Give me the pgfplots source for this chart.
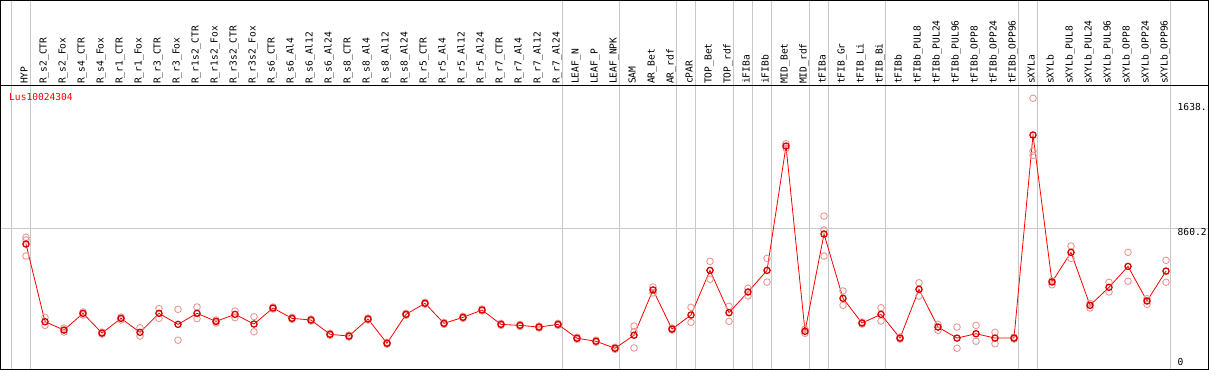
\documentclass[border=0pt]{standalone}
\usepackage{pgfplots}
\pgfplotsset{compat=1.18}
\usepackage{pgfplotstable}
\usepackage{fontspec}
\setmainfont{DejaVu Sans Mono}
\definecolor{rep}{RGB}{236,150,150}
\definecolor{gridc}{RGB}{200,200,200}
\pgfplotstableread{
x y
0 765.8
1 301
2 251
3 351
4 233
5 321
6 237.5
7 351
8 285
9 351
10 303
11 345
12 287
13 383
14 321
15 311
16 225.6
17 215
18 317
19 172
20 345
21 411
22 291
23 327
24 371
25 285
26 279
27 269
28 285
29 202
30 184
31 142
32 220
33 491
34 257
35 341
36 608
37 355
38 479
39 608
40 1352
41 243.5
42 825.7
43 441
44 293
45 345
46 203
47 495
48 269
49 203
50 229
51 203
52 203
53 1418
54 538.5
55 716
56 399
57 507
58 632
59 425
60 604
}\means
\pgfplotstableread{
x y
0 805.9
0 694
0 789.8
1 327
1 279
2 263
2 239
3 359
3 341
4 239
4 227
5 329
5 311
6 265
6 215
7 379
7 321
8 375
8 190
9 389
9 319
10 311
10 293
11 365
11 325
12 331
12 241
13 389
13 377
14 327
14 315
15 317
15 305
16 231.5
16 219.6
17 221
17 209
18 323
18 311
19 178
19 166
20 351
20 339
21 417
21 405
22 297
22 285
23 333
23 321
24 377
24 365
25 291
25 279
26 285
26 273
27 275
27 263
28 291
28 279
29 208
29 196
30 190
30 178
31 148
31 136
32 275
32 144
32 241
33 509
33 473
34 263
34 251
35 387
35 297
36 662
36 555
37 393
37 303
38 501
38 455
39 680
39 538
40 1366
40 1338
41 255.5
41 231.5
42 933
42 849.6
42 694
43 485
43 399
44 299
44 287
45 385
45 305
46 209
46 197
47 534
47 455
48 285
48 249.5
49 269
49 142
50 279
50 184
51 237.5
51 169
52 209
52 197
53 1638
53 1322
53 1297
54 546
54 522
55 754
55 680
56 411
56 383
57 537
57 479
58 716
58 543
59 438.5
59 405
60 668
60 537
}\reps
\newcommand{\lab}[2]{\node[rotate=90,anchor=base west,inner sep=0pt] at (axis cs:{#1+0.09},1723) {#2};}
\begin{document}
\begin{tikzpicture}[font=\fontsize{9.6}{11}\selectfont]
\begin{axis}[
 width=1208pt, height=369pt, scale only axis,
 xmin=-1.342, xmax=62.237, ymin=15, ymax=2223,
 axis line style={line width=1pt},
 xtick={-0.78,0.22,28.22,31.22,34.22,35.22,37.22,38.22,39.22,41.22,42.22,45.22,52.22,53.22,60.22},
 xticklabels={}, ytick={860.2}, yticklabels={},
 major tick length=0pt,
 xmajorgrids, ymajorgrids,
 grid style={gridc, line width=0.9pt},
 clip=false,
]
\draw[black, line width=1pt] (axis cs:-1.342,1717) -- (axis cs:62.237,1717);
\addplot[only marks, mark=o, mark size=3.3pt, mark options={rep, line width=0.9pt}] table {\reps};
\addplot[red, line width=0.8pt, mark=o, mark size=3.1pt, mark options={red!85!black, line width=1.3pt}] table {\means};
\node[anchor=west, text=red, inner sep=0pt] at (axis cs:-0.895,1645) {Lus10024304};
\node[anchor=west, inner sep=0pt] at (axis cs:60.605,1585.5) {1638.};
\node[anchor=west, inner sep=0pt] at (axis cs:60.605,837.6) {860.2};
\node[anchor=west, inner sep=0pt] at (axis cs:60.605,59.8) {0};
\lab{0}{HYP}
\lab{1}{R\_s2\_CTR}
\lab{2}{R\_s2\_Fox}
\lab{3}{R\_s4\_CTR}
\lab{4}{R\_s4\_Fox}
\lab{5}{R\_r1\_CTR}
\lab{6}{R\_r1\_Fox}
\lab{7}{R\_r3\_CTR}
\lab{8}{R\_r3\_Fox}
\lab{9}{R\_r1s2\_CTR}
\lab{10}{R\_r1s2\_Fox}
\lab{11}{R\_r3s2\_CTR}
\lab{12}{R\_r3s2\_Fox}
\lab{13}{R\_s6\_CTR}
\lab{14}{R\_s6\_Al4}
\lab{15}{R\_s6\_Al12}
\lab{16}{R\_s6\_Al24}
\lab{17}{R\_s8\_CTR}
\lab{18}{R\_s8\_Al4}
\lab{19}{R\_s8\_Al12}
\lab{20}{R\_s8\_Al24}
\lab{21}{R\_r5\_CTR}
\lab{22}{R\_r5\_Al4}
\lab{23}{R\_r5\_Al12}
\lab{24}{R\_r5\_Al24}
\lab{25}{R\_r7\_CTR}
\lab{26}{R\_r7\_Al4}
\lab{27}{R\_r7\_Al12}
\lab{28}{R\_r7\_Al24}
\lab{29}{LEAF\_N}
\lab{30}{LEAF\_P}
\lab{31}{LEAF\_NPK}
\lab{32}{SAM}
\lab{33}{AR\_Bet}
\lab{34}{AR\_rdf}
\lab{35}{cPAR}
\lab{36}{TOP\_Bet}
\lab{37}{TOP\_rdf}
\lab{38}{iFIBa}
\lab{39}{iFIBb}
\lab{40}{MID\_Bet}
\lab{41}{MID\_rdf}
\lab{42}{tFIBa}
\lab{43}{tFIB\_Gr}
\lab{44}{tFIB\_Li}
\lab{45}{tFIB\_Bi}
\lab{46}{tFIBb}
\lab{47}{tFIBb\_PUL8}
\lab{48}{tFIBb\_PUL24}
\lab{49}{tFIBb\_PUL96}
\lab{50}{tFIBb\_OPP8}
\lab{51}{tFIBb\_OPP24}
\lab{52}{tFIBb\_OPP96}
\lab{53}{sXYLa}
\lab{54}{sXYLb}
\lab{55}{sXYLb\_PUL8}
\lab{56}{sXYLb\_PUL24}
\lab{57}{sXYLb\_PUL96}
\lab{58}{sXYLb\_OPP8}
\lab{59}{sXYLb\_OPP24}
\lab{60}{sXYLb\_OPP96}
\end{axis}
\pgfresetboundingbox
\path[use as bounding box] ([shift={(-0.5pt,-0.5pt)}]current axis.south west) rectangle ([shift={(0.5pt,0.5pt)}]current axis.north east);
\end{tikzpicture}
\end{document}
